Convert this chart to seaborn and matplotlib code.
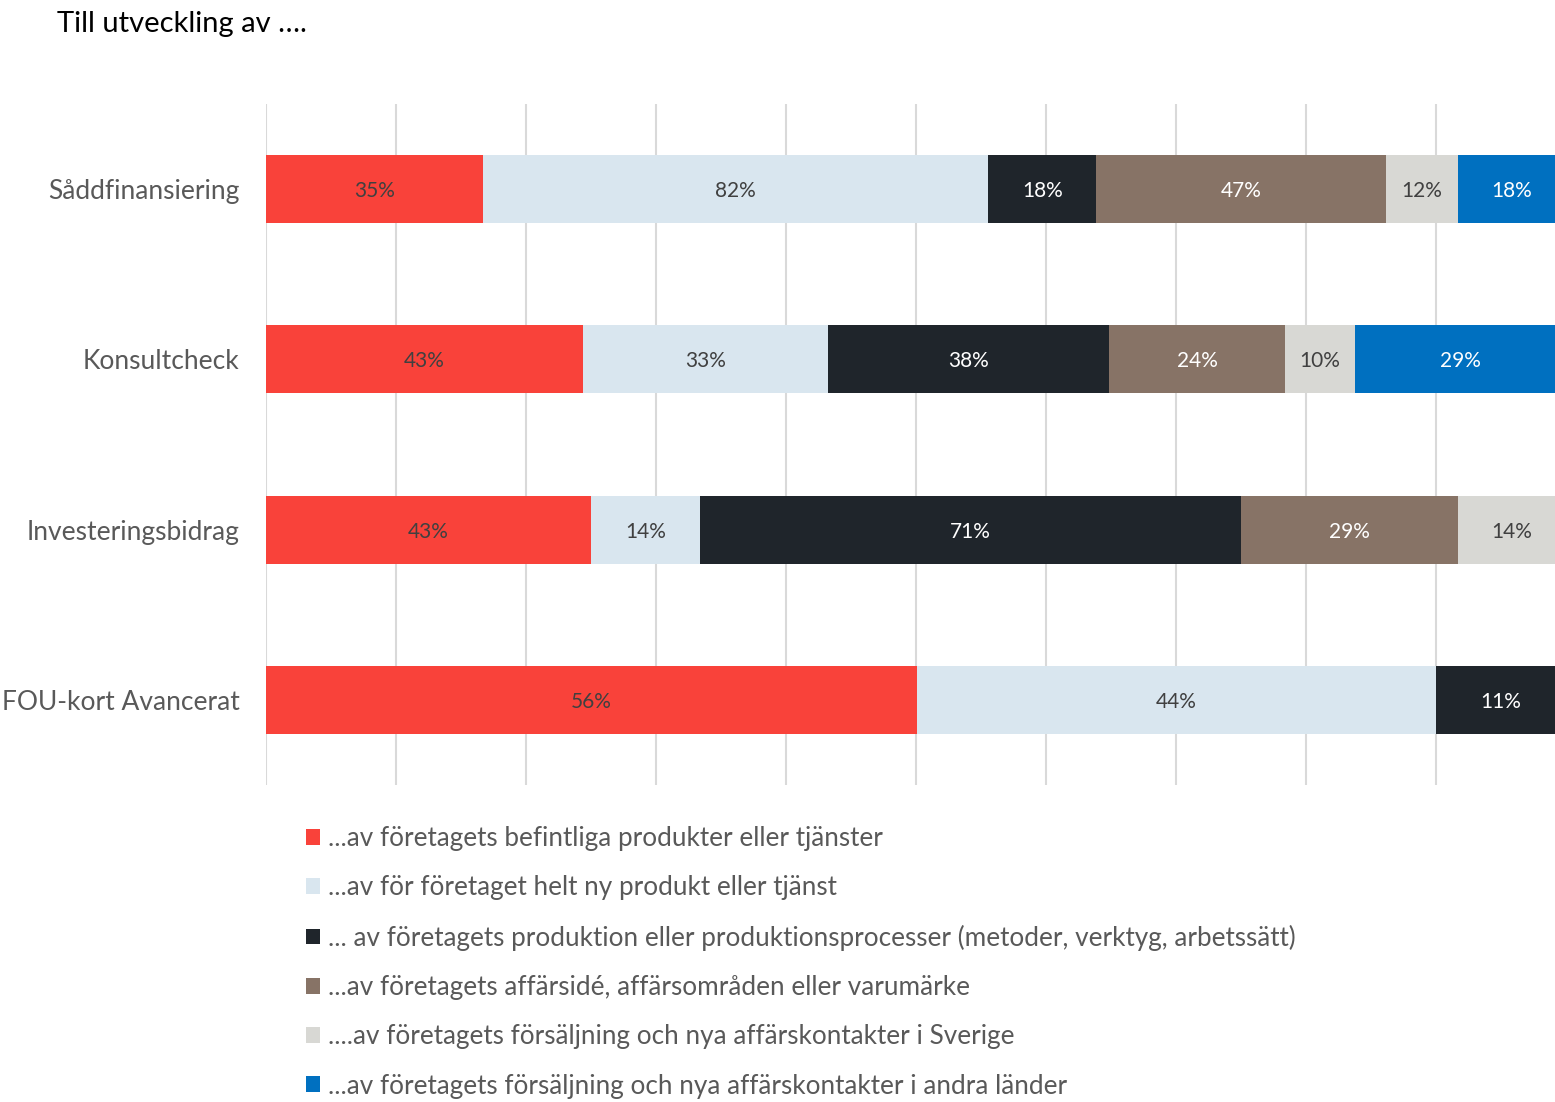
import numpy as np
import pandas as pd
import matplotlib.pyplot as plt
import seaborn as sns
from matplotlib.patches import Patch

# values shown on the bars (percent of respondents, per programme)
categories = ["Såddfinansiering", "Konsultcheck", "Investeringsbidrag", "FOU-kort Avancerat"]
series = [
    "...av företagets befintliga produkter eller tjänster",
    "...av för företaget helt ny produkt eller tjänst",
    "... av företagets produktion eller produktionsprocesser (metoder, verktyg, arbetssätt)",
    "...av företagets affärsidé, affärsområden eller varumärke",
    "....av företagets försäljning och nya affärskontakter i Sverige",
    "...av företagets försäljning och nya affärskontakter i andra länder",
]
befintliga = [35.3, 42.9, 42.9, 55.6]
ny_produkt = [82.4, 33.3, 14.3, 44.4]
produktion = [17.6, 38.1, 71.4, 11.1]
affarside = [47.1, 23.8, 28.6, 0.0]
sverige = [11.8, 9.5, 14.3, 0.0]
andra_lander = [17.6, 28.6, 0.0, 0.0]

colors = ["#F9423A", "#D9E6EF", "#1F252B", "#877366", "#D8D8D4", "#0070C0"]
label_colors = ["#404040", "#404040", "white", "white", "#404040", "white"]

df = pd.DataFrame(
    np.array([befintliga, ny_produkt, produktion, affarside, sverige, andra_lander]).T,
    index=categories, columns=series,
)
# 100% stacked: normalise each row
share = df.div(df.sum(axis=1), axis=0)
cum = share.cumsum(axis=1)

sns.set_theme(style="white")
plt.rcParams["font.family"] = ["Lato", "DejaVu Sans"]

fig = plt.figure(figsize=(15.55, 11.02), dpi=100)
ax = fig.add_axes([266 / 1555, 1 - 785 / 1102, 1300 / 1555, 681 / 1102])

# draw from the longest cumulative bar to the shortest so the segments stack
for i in reversed(range(len(series))):
    sns.barplot(x=cum.iloc[:, i].values, y=categories, color=colors[i],
                saturation=1, width=0.4, linewidth=0, orient="h", ax=ax)

for i, s in enumerate(series):
    for j, cat in enumerate(categories):
        v = df.loc[cat, s]
        if v <= 0:
            continue
        xc = cum.loc[cat, s] - share.loc[cat, s] / 2
        ax.text(xc, j, f"{v:.0f}%", ha="center", va="center_baseline",
                color=label_colors[i], fontsize=15)

ax.set_xlim(0, 1)
ax.set_ylim(3.5, -0.5)
ax.set_xticks(np.arange(0, 1.01, 0.1))
ax.set_xticklabels([])
ax.grid(axis="x", color="#D9D9D9", linewidth=1.5)
ax.set_axisbelow(True)
for sp in ax.spines.values():
    sp.set_visible(False)
ax.set_xlabel("")
ax.set_ylabel("")
ax.tick_params(axis="y", length=0, pad=19, labelsize=19, labelcolor="#595959")
ax.tick_params(axis="x", length=0)

fig.text(57 / 1555, 1 - 24 / 1102, "Till utveckling av ….", fontsize=21,
         color="black", va="center", ha="left")

handles = [Patch(facecolor=c, edgecolor="none") for c in colors]
fig.legend(handles, series, loc="upper left",
           bbox_to_anchor=(306 / 1555, 1 - 826 / 1102),
           frameon=False, fontsize=18.8, labelcolor="#595959",
           handlelength=0.55, handleheight=0.55, handletextpad=0.28,
           labelspacing=0.93, borderpad=0, borderaxespad=0)

fig.savefig("out.png", dpi=100)
